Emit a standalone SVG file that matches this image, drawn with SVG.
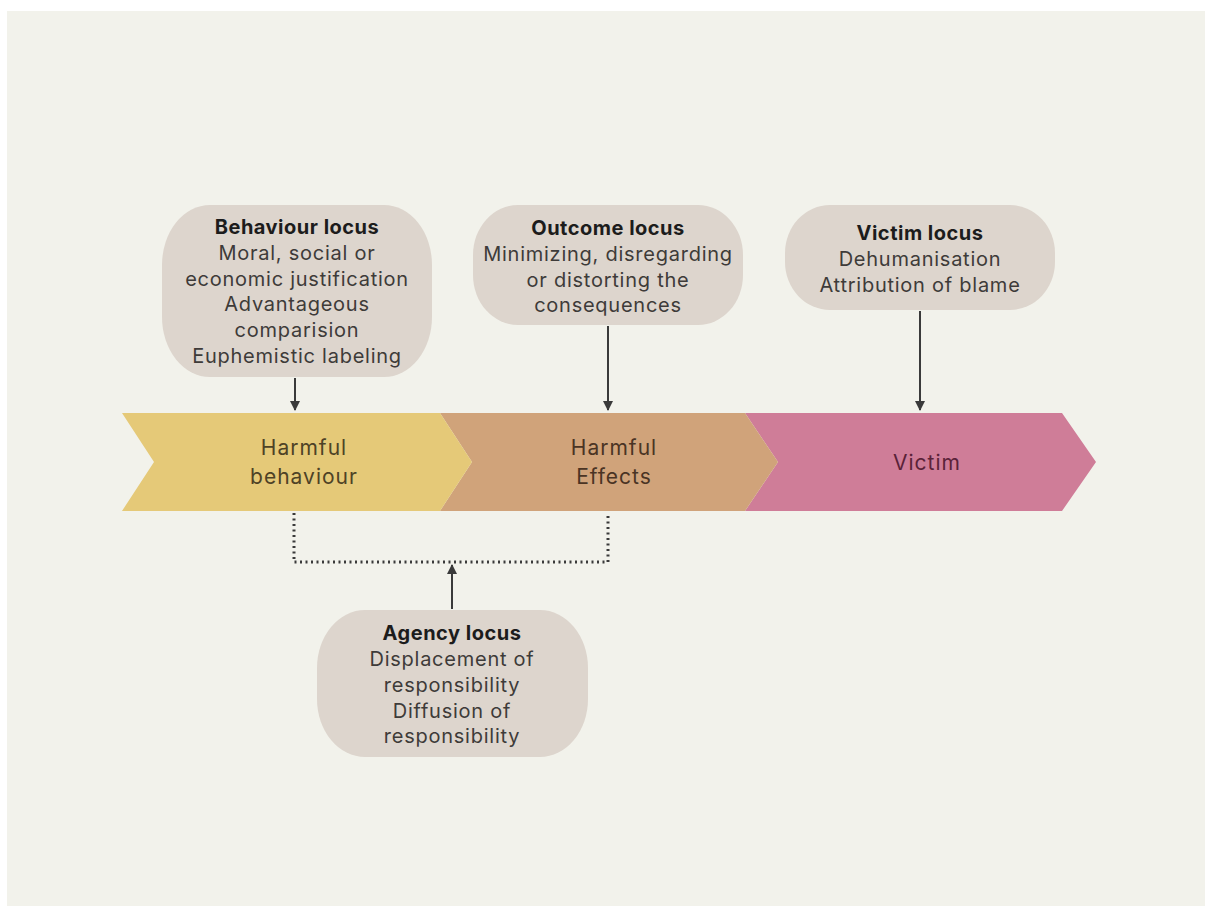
<svg xmlns="http://www.w3.org/2000/svg" width="1205" height="906" viewBox="0 0 1205 906">
<defs>
<marker id="ah" viewBox="0 0 10 10" refX="9" refY="5" markerWidth="5" markerHeight="5" orient="auto-start-reverse" markerUnits="strokeWidth">
<path d="M0,0 L10,5 L0,10 z" fill="#3a3a3a"/>
</marker>
<style>
.box{fill:#ddd5cd}
.t{font-family:Inter,"Open Sans","Liberation Sans",sans-serif;font-size:20px;letter-spacing:0.75px;text-anchor:middle;fill:#3e3b39}
.h{font-weight:bold;fill:#1c1c1c;letter-spacing:0.5px}
.c{font-family:Inter,"Open Sans","Liberation Sans",sans-serif;font-size:21px;letter-spacing:1px;text-anchor:middle}
.con{stroke:#3a3a3a;stroke-width:2;fill:none}
.dot{stroke:#3a3a3a;stroke-width:3;fill:none;stroke-dasharray:2 3.5}
</style>
</defs>
<rect x="0" y="0" width="1205" height="906" fill="#ffffff"/>
<rect x="7" y="11" width="1198" height="895" fill="#f2f2eb"/>

<g id="victim">
<polygon points="745,413 1062,413 1096,462 1062,511 745,511 778,462" fill="#cf7d98"/>
<text class="c" x="927" y="470" fill="#5a2238">Victim</text>
</g>
<g id="harmful-effects">
<polygon points="440,413 745,413 778,462 745,511 440,511 472,462" fill="#d0a37a"/>
<text class="c" x="614" y="455" fill="#4a3424">Harmful</text>
<text class="c" x="614" y="484" fill="#4a3424">Effects</text>
</g>
<g id="harmful-behaviour">
<polygon points="122,413 440,413 472,462 440,511 122,511 154,462" fill="#e5c978"/>
<text class="c" x="304" y="455" fill="#4e4226">Harmful</text>
<text class="c" x="304" y="484" fill="#4e4226">behaviour</text>
</g>

<g id="behaviour-locus">
<rect class="box" x="162" y="205" width="270" height="172" rx="48" ry="60"/>
<text class="t h" x="297" y="234">Behaviour locus</text>
<text class="t" x="297" y="260">Moral, social or</text>
<text class="t" x="297" y="286">economic justification</text>
<text class="t" x="297" y="311">Advantageous</text>
<text class="t" x="297" y="337">comparision</text>
<text class="t" x="297" y="363">Euphemistic labeling</text>
</g>
<g id="outcome-locus">
<rect class="box" x="473" y="205" width="270" height="120" rx="45" ry="50"/>
<text class="t h" x="608" y="235">Outcome locus</text>
<text class="t" x="608" y="261">Minimizing, disregarding</text>
<text class="t" x="608" y="287">or distorting the</text>
<text class="t" x="608" y="312">consequences</text>
</g>
<g id="victim-locus">
<rect class="box" x="785" y="205" width="270" height="105" rx="45" ry="48"/>
<text class="t h" x="920" y="240">Victim locus</text>
<text class="t" x="920" y="266">Dehumanisation</text>
<text class="t" x="920" y="292">Attribution of blame</text>
</g>
<g id="agency-locus">
<rect class="box" x="317" y="610" width="271" height="147" rx="48" ry="58"/>
<text class="t h" x="452" y="640">Agency locus</text>
<text class="t" x="452" y="666">Displacement of</text>
<text class="t" x="452" y="692">responsibility</text>
<text class="t" x="452" y="718">Diffusion of</text>
<text class="t" x="452" y="743">responsibility</text>
</g>

<g id="connectors">
<line class="con" x1="295" y1="378" x2="295" y2="410" marker-end="url(#ah)"/>
<line class="con" x1="608" y1="326" x2="608" y2="410" marker-end="url(#ah)"/>
<line class="con" x1="920" y1="311" x2="920" y2="410" marker-end="url(#ah)"/>
<polyline class="dot" points="294,513 294,562 608,562 608,513"/>
<line class="con" x1="452" y1="609" x2="452" y2="565" marker-end="url(#ah)"/>
</g>
</svg>
